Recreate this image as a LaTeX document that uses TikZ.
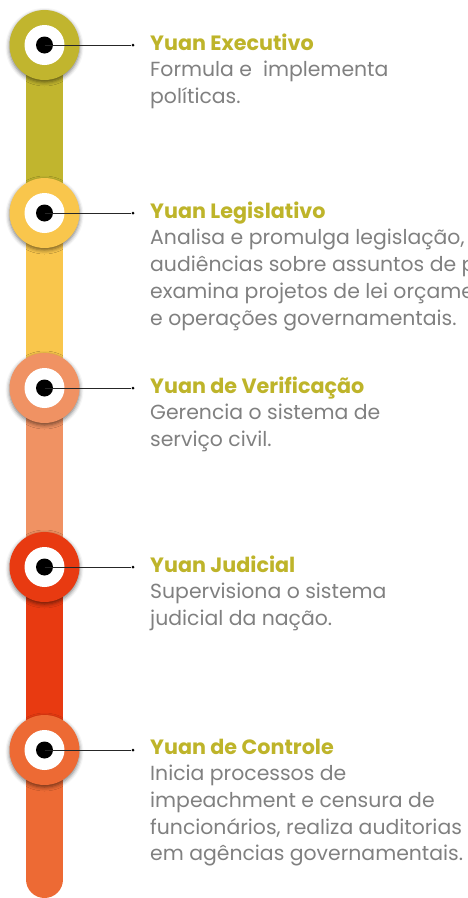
\documentclass[tikz,border=0pt]{standalone}
\usepackage{fontspec}
\setmainfont{Poppins}
\usetikzlibrary{shadows.blur}
\definecolor{olv}{RGB}{193,181,46}
\definecolor{yel}{RGB}{249,198,76}
\definecolor{sal}{RGB}{240,146,99}
\definecolor{red}{RGB}{232,58,17}
\definecolor{org}{RGB}{237,106,52}
\definecolor{ttl}{RGB}{190,180,42}
\definecolor{txt}{RGB}{128,128,128}
\newcommand{\ttlx}[1]{{\rule{0pt}{15pt}\fontsize{20.7}{26}\selectfont\bfseries\color{ttl}#1}}
\begin{document}
\begin{tikzpicture}[x=1pt, y=-1pt,
    bar/.style={line width=37pt},
    ring/.style={circle, minimum size=70pt, inner sep=0pt,
        blur shadow={shadow xshift=0pt, shadow yshift=-2pt, shadow blur radius=4pt, shadow opacity=55}},
    hole/.style={circle, fill=white, minimum size=40pt, inner sep=0pt},
    dot/.style={circle, fill=black, minimum size=17pt, inner sep=0pt},
    tip/.style={circle, fill=black, minimum size=3pt, inner sep=0pt},
    link/.style={line width=0.8pt, black!85},
    item/.style={anchor=north west, align=left, inner sep=0pt, text=txt,
        font=\fontsize{20.4}{26.7}\selectfont}]
    \useasboundingbox (0,0) rectangle (467,898);

    \coordinate (s1) at (44.5,45);
    \coordinate (s2) at (44.5,213);
    \coordinate (s3) at (44.5,388);
    \coordinate (s4) at (44.5,567);
    \coordinate (s5) at (44.5,750);
    \coordinate (bot) at (44.5,879.5);

    \draw[bar, olv] (s1) -- (s2);
    \draw[bar, yel] (s2) -- (s3);
    \draw[bar, sal] (s3) -- (s4);
    \draw[bar, red] (s4) -- (s5);
    \draw[bar, org, line cap=round] (s5) -- (bot);

    \node[ring, fill=olv] (k1) at (s1) {};
    \node[ring, fill=yel] (k2) at (s2) {};
    \node[ring, fill=sal] (k3) at (s3) {};
    \node[ring, fill=red] (k4) at (s4) {};
    \node[ring, fill=org] (k5) at (s5) {};

    \node[hole] (h1) at (k1) {};
    \node[hole] (h2) at (k2) {};
    \node[hole] (h3) at (k3) {};
    \node[hole] (h4) at (k4) {};
    \node[hole] (h5) at (k5) {};

    \node[dot] (p1) at (k1) {};
    \node[dot] (p2) at (k2) {};
    \node[dot] (p3) at (k3) {};
    \node[dot] (p4) at (k4) {};
    \node[dot] (p5) at (k5) {};

    \node[tip] (e1) at (133,45) {};
    \node[tip] (e2) at (133,213) {};
    \node[tip] (e3) at (133,388) {};
    \node[tip] (e4) at (133,567) {};
    \node[tip] (e5) at (133,750) {};

    \draw[link] (p1.center) -- (e1);
    \draw[link] (p2.center) -- (e2);
    \draw[link] (p3.center) -- (e3);
    \draw[link] (p4.center) -- (e4);
    \draw[link] (p5.center) -- (e5);

    \node[item] (exec) at (150,33.5) {\ttlx{Yuan Executivo}\\Formula e \ implementa\\políticas.};
    \node[item] (legis) at (150,201.5) {\ttlx{Yuan Legislativo}\\Analisa e promulga legislação, realiza\\audiências sobre assuntos de política,\\examina projetos de lei orçamentários\\e operações governamentais.};
    \node[item] (verif) at (150,376.5) {\ttlx{Yuan de Verificação}\\Gerencia o sistema de\\serviço civil.};
    \node[item] (judic) at (150,555.5) {\ttlx{Yuan Judicial}\\Supervisiona o sistema\\judicial da nação.};
    \node[item] (contr) at (150,738.5) {\ttlx{Yuan de Controle}\\Inicia processos de\\impeachment e censura de\\funcionários, realiza auditorias\\em agências governamentais.};
\end{tikzpicture}
\end{document}
